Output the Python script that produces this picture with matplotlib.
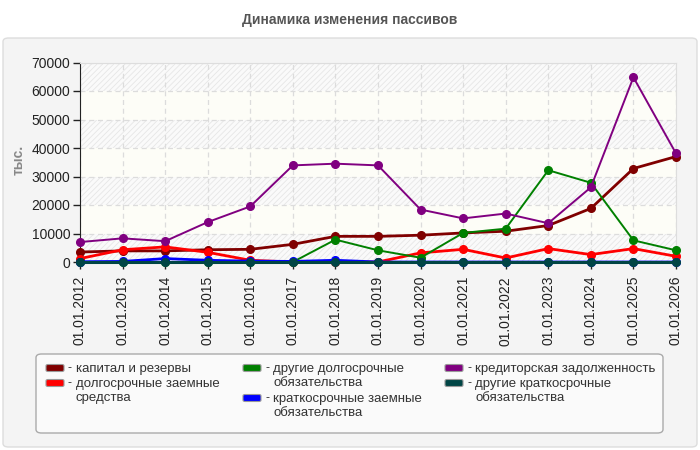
import matplotlib
matplotlib.use("Agg")
import matplotlib.pyplot as plt
from matplotlib.patches import FancyBboxPatch

plt.rcParams['font.family'] = ['Liberation Sans', 'DejaVu Sans']
plt.rcParams['hatch.linewidth'] = 0.6

dates = ["01.01.2012", "01.01.2013", "01.01.2014", "01.01.2015", "01.01.2016",
         "01.01.2017", "01.01.2018", "01.01.2019", "01.01.2020", "01.01.2021",
         "01.01.2022", "01.01.2023", "01.01.2024", "01.01.2025", "01.01.2026"]

capital = [3500, 3900, 3900, 4300, 4450, 6200, 9000, 9000, 9400, 10200,
           10800, 12800, 18800, 32800, 37000]
long_loans = [1200, 4300, 5300, 3400, 600, 0, 0, 0, 3200, 4450,
              1400, 4700, 2600, 4700, 2000]
other_long = [0, 0, 0, 0, 0, 0, 7850, 4100, 1500, 10200,
              11700, 32200, 27800, 7600, 4100]
short_loans = [100, 200, 1200, 600, 300, 200, 600, 0, 0, 0,
               0, 0, 0, 0, 0]
payables = [7000, 8300, 7300, 14000, 19500, 33900, 34500, 33900, 18400, 15300,
            17000, 13600, 26200, 64800, 38100]
other_short = [0] * 15

labels = ["капитал и резервы", "долгосрочные заемные\nсредства",
          "другие долгосрочные\nобязательства", "краткосрочные заемные\nобязательства",
          "кредиторская задолженность", "другие краткосрочные\nобязательства"]
colors = ["#800000", "#ff0000", "#008000", "#0000ff", "#800080", "#004545"]
widths = [2.0, 2.0, 1.4, 2.0, 1.4, 2.2]
series = [capital, long_loans, other_long, short_loans, payables, other_short]

fig = plt.figure(figsize=(7, 4.5), dpi=100)
fig.patch.set_facecolor("white")

# outer grey panel
panel = FancyBboxPatch((3 / 700, 3 / 450), 694 / 700, 409 / 450,
                       boxstyle="round,pad=0,rounding_size=0.008",
                       transform=fig.transFigure, facecolor="#f4f4f4",
                       edgecolor="#dddddd", linewidth=1, zorder=-2)
fig.patches.append(panel)

fig.text(0.5, 1 - 20 / 450, "Динамика изменения пассивов", ha="center", va="center",
         fontsize=10, fontweight="bold", color="#555555")

ax = fig.add_axes([80 / 700, 1 - 262 / 450, 596 / 700, 199.5 / 450])
ax.set_facecolor("#fdfdf7")

# striped background bands
for i, lo in enumerate(range(0, 70000, 10000)):
    if i % 2 == 0:
        ax.axhspan(lo, lo + 10000, facecolor="#fafafa", edgecolor="#e6e6e6",
                   hatch="//////", linewidth=0, zorder=0)

x = list(range(len(dates)))
order = [1, 3, 0, 2, 4, 5]
for k in order:
    ax.plot(x, series[k], color=colors[k], linewidth=widths[k], marker="o",
            markersize=5.5, clip_on=False, zorder=3 + k)

ax.set_xlim(0, len(dates) - 1)
ax.set_ylim(0, 70000)
ax.set_yticks(range(0, 70001, 10000))
ax.set_xticks(x)
ax.set_xticklabels(dates, rotation=90)
ax.tick_params(axis="both", labelsize=10, colors="#222222", length=5, width=1)
ax.tick_params(axis="y", pad=2)
ax.tick_params(axis="x", pad=5)
ax.grid(True, color="#dcdcdc", linestyle=(0, (4, 3)), linewidth=0.9, zorder=1)
ax.set_axisbelow(True)
for side in ["top", "right"]:
    ax.spines[side].set_color("#dddddd")
ax.spines["left"].set_color("#222222")
ax.spines["bottom"].set_color("#222222")

fig.text(19 / 700, 1 - 160 / 450, "тыс.", rotation=90, ha="center", va="center",
         fontsize=10, fontweight="bold", color="#888888")

# legend box
lbox = FancyBboxPatch((36 / 700, 1 - 433 / 450), 627 / 700, 79 / 450,
                      boxstyle="round,pad=0,rounding_size=0.008",
                      transform=fig.transFigure, facecolor="#fafafa",
                      edgecolor="#aaaaaa", linewidth=1, zorder=-1)
fig.patches.append(lbox)

cols = [(46, [0, 1]), (243, [2, 3]), (445, [4, 5])]
for sx, items in cols:
    y = 368
    for k in items:
        sw = FancyBboxPatch((sx / 700, 1 - (y + 3.5) / 450), 18 / 700, 7 / 450,
                            boxstyle="round,pad=0,rounding_size=0.003",
                            transform=fig.transFigure, facecolor=colors[k],
                            edgecolor="#999999", linewidth=0.8, zorder=1)
        fig.patches.append(sw)
        fig.text((sx + 22) / 700, 1 - y / 450, "-", ha="left", va="center",
                 fontsize=9, color="#333333")
        fig.text((sx + 30) / 700, 1 - (y - 5) / 450, labels[k], ha="left", va="top",
                 fontsize=9.5, color="#333333", linespacing=1.22)
        y += 15 * (labels[k].count("\n") + 1)

fig.savefig("out.png", dpi=100)
